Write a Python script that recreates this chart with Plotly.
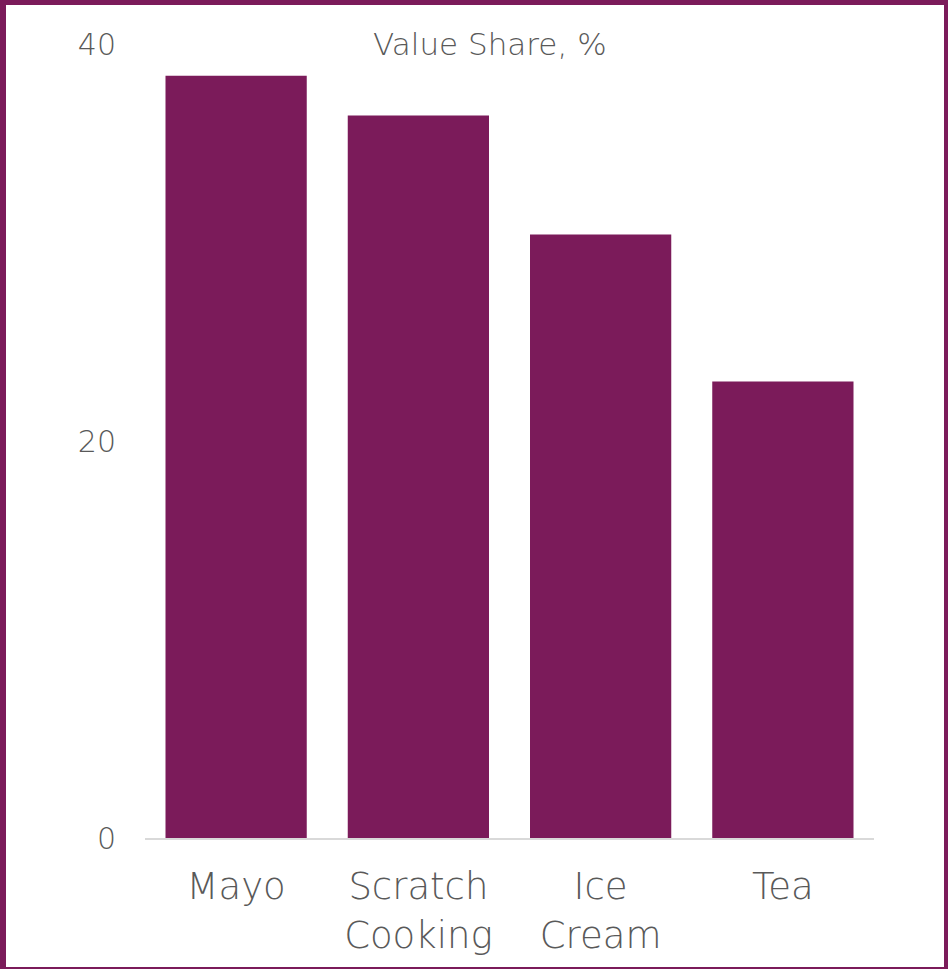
import plotly.graph_objects as go

categories = ["Mayo", "Scratch<br>Cooking", "Ice<br>Cream", "Tea"]
values = [38.4, 36.4, 30.4, 23.0]
y_ticks = [0, 20, 40]
title_text = "Value Share, %"

W, H = 948, 969
ML, MR, MT, MB = 145, 74, 44, 131
PW, PH = W - ML - MR, H - MT - MB
PURPLE = "#7B1B5A"
GRAY = "#595959"
FONT = "DejaVu Sans"

def px_x(p):
    return (p - ML) / PW

def px_y(p):
    return (H - MB - p) / PH

fig = go.Figure(go.Bar(x=categories, y=values, marker_color=PURPLE, marker_line_width=0))

shapes = []
for (x0, y0, x1, y1) in [(0, 0, 6, H), (0, 0, W, 5), (944, 0, W, H), (0, 967, W, H)]:
    shapes.append(dict(type="rect", xref="paper", yref="paper",
                       x0=px_x(x0), x1=px_x(x1), y0=px_y(y1), y1=px_y(y0),
                       fillcolor=PURPLE, line_width=0, layer="above"))

fig.update_layout(
    width=W, height=H,
    margin=dict(l=ML, r=MR, t=MT, b=MB, pad=0),
    paper_bgcolor="white", plot_bgcolor="white",
    bargap=0.225,
    showlegend=False,
    font=dict(family=FONT, color=GRAY, weight=300),
    shapes=shapes,
    annotations=[dict(text=title_text, xref="paper", yref="paper",
                      x=px_x(490), y=px_y(44), xanchor="center", yanchor="middle",
                      showarrow=False, font=dict(size=31, color=GRAY, family=FONT, weight=300))],
)
fig.update_xaxes(showline=True, linecolor="#D9D9D9", linewidth=2, showgrid=False,
                 ticks="", tickfont=dict(size=37, color=GRAY, family=FONT, weight=300),
                 ticklabelstandoff=15, fixedrange=True)
fig.update_yaxes(range=[0, 40], tickvals=y_ticks, showgrid=False, zeroline=False,
                 showline=False, ticks="", tickfont=dict(size=30, color=GRAY, family=FONT, weight=300),
                 ticklabelstandoff=28, fixedrange=True)

fig.write_html("out.html", config={"displayModeBar": False})
